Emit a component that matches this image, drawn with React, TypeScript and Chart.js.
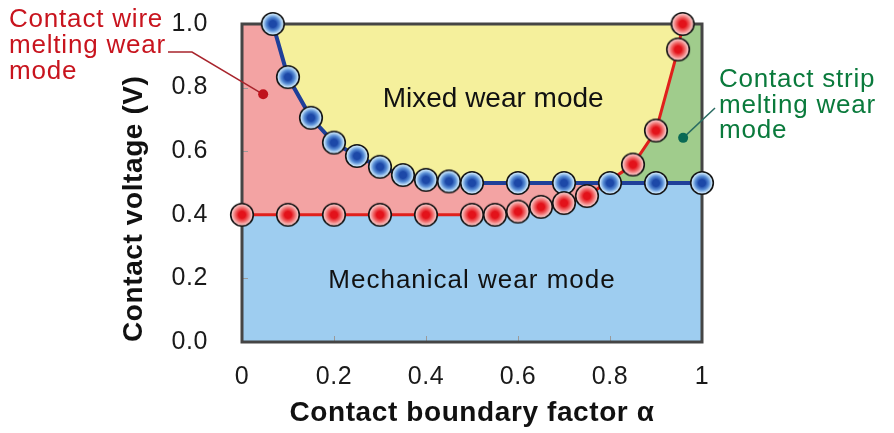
import React, { useEffect, useRef } from 'react';
import { Chart, registerables } from 'chart.js';

Chart.register(...registerables);

const FONT = "'Liberation Sans', Arial, Helvetica, sans-serif";

// ---- Data ----
// Boundary between mixed wear and the other modes (blue markers)
const blueAlpha = [0.067, 0.1, 0.15, 0.2, 0.25, 0.3, 0.35, 0.4, 0.45, 0.5, 0.6, 0.7, 0.8, 0.9, 1.0];
const blueVoltage = [1.0, 0.833, 0.705, 0.627, 0.585, 0.551, 0.525, 0.51, 0.505, 0.5, 0.5, 0.5, 0.5, 0.5, 0.5];
// Boundary of melting-wear modes (red markers)
const redAlpha = [0, 0.1, 0.2, 0.3, 0.4, 0.5, 0.55, 0.6, 0.65, 0.7, 0.75, 0.85, 0.9, 0.948, 0.958];
const redVoltage = [0.4, 0.4, 0.4, 0.4, 0.4, 0.4, 0.4, 0.41, 0.425, 0.437, 0.459, 0.558, 0.665, 0.92, 1.0];

const xTickLabels = ['0', '0.2', '0.4', '0.6', '0.8', '1'];
const yTickLabels = ['0.0', '0.2', '0.4', '0.6', '0.8', '1.0'];
const xTickValues = [0, 0.2, 0.4, 0.6, 0.8, 1];
const yTickValues = [0, 0.2, 0.4, 0.6, 0.8, 1];

const regionLabels = ['Mixed wear mode', 'Mechanical wear mode'];
const wireLabel = ['Contact wire', 'melting wear', 'mode'];
const stripLabel = ['Contact strip', 'melting wear', 'mode'];

const X_MIN = 0;
const X_MAX = 1;
const Y_MIN = 0;
const Y_MAX = 1;
const SPLIT_ALPHA = 0.8; // where the red curve leaves the 0.5 V line

const COLORS = {
  yellow: '#f5f09c',
  pink: '#f3a3a3',
  lightBlue: '#9ecdf0',
  green: '#a0cc8c',
  blueLine: '#1f3f99',
  redLine: '#e0201c',
  frame: '#454545',
  red: '#c8141e',
  green2: '#0a7a3c',
};

function makeBall(inner: string, mid: string, outer: string): HTMLCanvasElement {
  const size = 26;
  const c = document.createElement('canvas');
  c.width = size;
  c.height = size;
  const g = c.getContext('2d') as CanvasRenderingContext2D;
  const cx = size / 2;
  const r = 11.3;
  const grad = g.createRadialGradient(cx, cx, 0, cx, cx, r);
  grad.addColorStop(0, inner);
  grad.addColorStop(0.3, inner);
  grad.addColorStop(0.6, mid);
  grad.addColorStop(0.85, outer);
  grad.addColorStop(1, outer);
  g.beginPath();
  g.arc(cx, cx, r, 0, Math.PI * 2);
  g.fillStyle = grad;
  g.fill();
  g.lineWidth = 1.6;
  g.strokeStyle = '#151515';
  g.stroke();
  return c;
}

export default function App() {
  const ref = useRef<HTMLCanvasElement>(null);

  useEffect(() => {
    const canvas = ref.current;
    if (!canvas) return;

    const pts = (xs: number[], ys: number[]) => xs.map((x, i) => ({ x, y: ys[i] }));
    const bluePts = pts(blueAlpha, blueVoltage);
    const redPts = pts(redAlpha, redVoltage);
    const splitPt = bluePts.find((p) => p.x === SPLIT_ALPHA) as { x: number; y: number };

    const yellowFill = [{ x: X_MIN, y: Y_MAX }, { x: X_MAX, y: Y_MAX }];
    const pinkFill = [{ x: X_MIN, y: Y_MAX }, ...bluePts.filter((p) => p.x <= SPLIT_ALPHA)];
    const greenFill = [splitPt, ...redPts.filter((p) => p.x > SPLIT_ALPHA), { x: X_MAX, y: Y_MAX }];
    const lightBlueFill = [
      ...redPts.filter((p) => p.x < SPLIT_ALPHA),
      splitPt,
      ...bluePts.filter((p) => p.x > SPLIT_ALPHA),
    ];

    const blueBall = makeBall('#1c48a8', '#5a8fd6', '#bddcf6');
    const redBall = makeBall('#e3121a', '#f06a6a', '#f7baba');

    const fillDs = (data: any[], color: string) => ({
      data,
      fill: 'origin',
      backgroundColor: color,
      borderColor: 'rgba(0,0,0,0)',
      borderWidth: 0,
      pointRadius: 0,
      tension: 0,
    });

    const decor = {
      id: 'decor',
      beforeLayout(chart: any) {
        chart.ctx.letterSpacing = '0.6px';
      },
      beforeDraw(chart: any) {
        chart.ctx.letterSpacing = '0.6px';
      },
      beforeDatasetsDraw(chart: any) {
        const { ctx, chartArea: a, scales } = chart;
        ctx.save();
        ctx.strokeStyle = '#9a9a9a';
        ctx.lineWidth = 1;
        ctx.beginPath();
        xTickValues.forEach((v) => {
          const px = Math.round(scales.x.getPixelForValue(v)) + 0.5;
          ctx.moveTo(px, a.bottom);
          ctx.lineTo(px, a.bottom - 6);
        });
        yTickValues.forEach((v) => {
          const py = Math.round(scales.y.getPixelForValue(v)) + 0.5;
          ctx.moveTo(a.left, py);
          ctx.lineTo(a.left + 6, py);
        });
        ctx.stroke();
        ctx.strokeStyle = COLORS.frame;
        ctx.lineWidth = 3;
        ctx.strokeRect(a.left, a.top, a.right - a.left, a.bottom - a.top);
        ctx.restore();
      },
      afterDatasetsDraw(chart: any) {
        const { ctx, scales } = chart;
        const X = (v: number) => scales.x.getPixelForValue(v);
        const Y = (v: number) => scales.y.getPixelForValue(v);
        ctx.save();
        ctx.textBaseline = 'alphabetic';

        // Region labels
        ctx.fillStyle = '#111';
        ctx.textAlign = 'center';
        ctx.letterSpacing = '0px';
        ctx.font = `28px ${FONT}`;
        ctx.fillText(regionLabels[0], X(0.546), Y(0.739));
        ctx.letterSpacing = '1px';
        ctx.font = `26px ${FONT}`;
        ctx.fillText(regionLabels[1], X(0.5), Y(0.17));

        // Contact wire melting wear mode annotation
        ctx.textAlign = 'left';
        ctx.letterSpacing = '0.8px';
        ctx.font = `26px ${FONT}`;
        ctx.fillStyle = COLORS.red;
        wireLabel.forEach((t, i) => ctx.fillText(t, 9, 27 + i * 26));
        ctx.strokeStyle = '#a8242c';
        ctx.lineWidth = 1.5;
        ctx.beginPath();
        ctx.moveTo(168, 52);
        ctx.lineTo(192, 52);
        ctx.lineTo(X(0.046), Y(0.779));
        ctx.stroke();
        ctx.fillStyle = '#c0121c';
        ctx.beginPath();
        ctx.arc(X(0.046), Y(0.779), 5, 0, Math.PI * 2);
        ctx.fill();

        // Contact strip melting wear mode annotation
        ctx.fillStyle = COLORS.green2;
        stripLabel.forEach((t, i) => ctx.fillText(t, 719, 87 + i * 25.5));
        ctx.strokeStyle = '#2a6c62';
        ctx.lineWidth = 1.5;
        ctx.beginPath();
        ctx.moveTo(X(0.959), Y(0.642));
        ctx.lineTo(715, 108);
        ctx.stroke();
        ctx.fillStyle = '#0a6a55';
        ctx.beginPath();
        ctx.arc(X(0.959), Y(0.642), 5, 0, Math.PI * 2);
        ctx.fill();
        ctx.restore();
      },
    };

    const chart = new Chart(canvas, {
      type: 'line',
      data: {
        datasets: [
          {
            data: redPts,
            showLine: false,
            pointStyle: redBall as any,
            pointRadius: 12,
            clip: false,
            fill: false,
          } as any,
          {
            data: bluePts,
            borderColor: COLORS.blueLine,
            borderWidth: 4,
            pointStyle: blueBall as any,
            pointRadius: 12,
            tension: 0,
            clip: false,
            fill: false,
          } as any,
          {
            data: redPts,
            borderColor: COLORS.redLine,
            borderWidth: 3,
            pointRadius: 0,
            tension: 0,
            fill: false,
          } as any,
          fillDs(lightBlueFill, COLORS.lightBlue) as any,
          fillDs(pinkFill, COLORS.pink) as any,
          fillDs(greenFill, COLORS.green) as any,
          fillDs(yellowFill, COLORS.yellow) as any,
        ],
      },
      options: {
        responsive: false,
        animation: false,
        events: [],
        layout: { padding: { left: 116, right: 192, top: 24, bottom: 0 } },
        plugins: {
          legend: { display: false },
          tooltip: { enabled: false },
          filler: { drawTime: 'beforeDatasetsDraw' } as any,
        },
        scales: {
          x: {
            type: 'linear',
            min: X_MIN,
            max: X_MAX,
            grid: { display: false, drawTicks: false },
            border: { display: false },
            ticks: {
              stepSize: 0.2,
              padding: 20,
              color: '#1a1a1a',
              autoSkip: false,
              maxRotation: 0,
              font: { family: FONT, size: 25 },
              callback: (_v: any, i: number) => xTickLabels[i],
            },
            title: {
              display: true,
              text: 'Contact boundary factor α',
              color: '#111',
              font: { family: FONT, size: 28, weight: 'bold' },
              padding: { top: 4, bottom: 3 },
            },
            afterFit: (s: any) => {
              s.height = 91;
              s.paddingLeft = 0;
              s.paddingRight = 0;
            },
          },
          y: {
            type: 'linear',
            min: Y_MIN,
            max: Y_MAX,
            grid: { display: false, drawTicks: false },
            border: { display: false },
            ticks: {
              stepSize: 0.2,
              padding: 34,
              color: '#1a1a1a',
              font: { family: FONT, size: 25 },
              callback: (_v: any, i: number) => yTickLabels[i],
            },
            title: {
              display: true,
              text: 'Contact voltage (V)',
              align: 'start',
              color: '#111',
              font: { family: FONT, size: 28, weight: 'bold' },
              padding: { top: 1, bottom: 2 },
            },
            afterFit: (s: any) => {
              s.width = 126;
              s.paddingTop = 0;
              s.paddingBottom = 0;
            },
          },
        },
      } as any,
      plugins: [decor as any],
    });

    return () => chart.destroy();
  }, []);

  return (
    <div style={{ position: 'absolute', left: 0, top: 0, width: 894, height: 433, background: '#fff' }}>
      <canvas ref={ref} width={894} height={433} style={{ display: 'block' }} />
    </div>
  );
}
